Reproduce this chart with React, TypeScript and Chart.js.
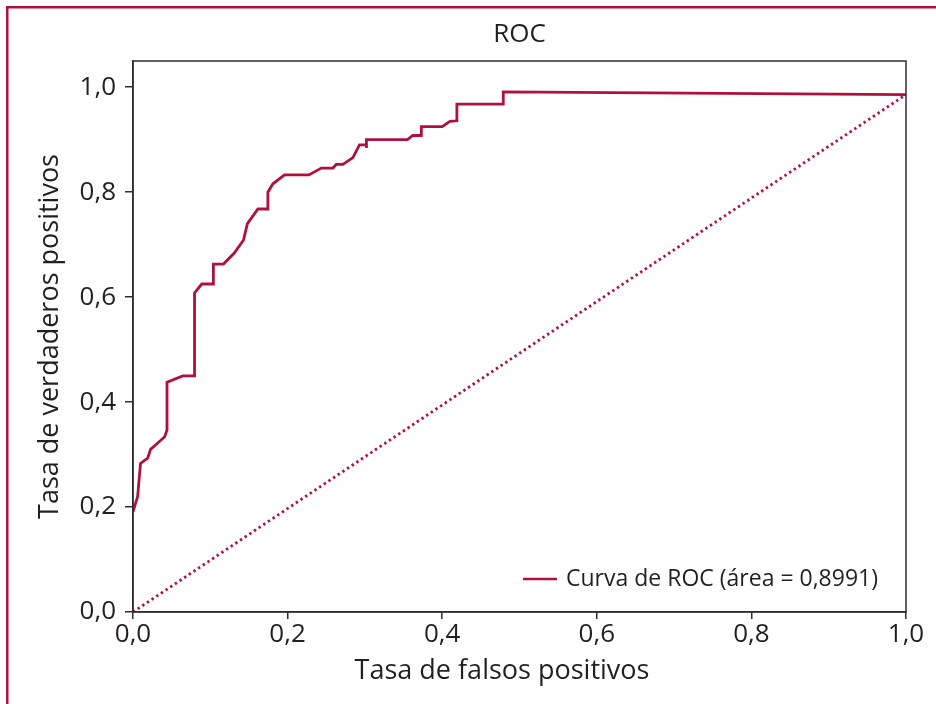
import React, { useEffect, useRef } from "react";
import { Chart, registerables } from "chart.js";

Chart.register(...registerables);

const titleText = "ROC";
const xAxisTitle = "Tasa de falsos positivos";
const yAxisTitle = "Tasa de verdaderos positivos";
const curveLabel = "Curva de ROC (área = 0,8991)";

const tickValues = [0, 0.2, 0.4, 0.6, 0.8, 1.0];

const fpr = [
  0, 0.006, 0.0097, 0.019, 0.0227, 0.032, 0.041, 0.044, 0.044, 0.0645, 0.0796,
  0.0796, 0.089, 0.104, 0.104, 0.117, 0.131, 0.143, 0.148, 0.1616, 0.1745,
  0.1745, 0.181, 0.196, 0.2276, 0.2436, 0.2587, 0.263, 0.2716, 0.2845, 0.293,
  0.302, 0.302, 0.302, 0.355, 0.362, 0.373, 0.373, 0.4, 0.41, 0.419, 0.419,
  0.479, 0.479, 1.0,
];
const tpr = [
  0.191, 0.22, 0.283, 0.293, 0.31, 0.322, 0.334, 0.347, 0.438, 0.45, 0.45,
  0.608, 0.625, 0.625, 0.663, 0.663, 0.684, 0.709, 0.74, 0.768, 0.768, 0.8,
  0.816, 0.833, 0.833, 0.846, 0.846, 0.853, 0.853, 0.866, 0.89, 0.89, 0.884,
  0.9, 0.9, 0.908, 0.908, 0.925, 0.925, 0.935, 0.936, 0.968, 0.968, 0.991,
  0.986,
];
const diagX = [0, 1.0];
const diagY = [0, 0.986];

const CRIMSON = "#B0103F";
const INK = "#231F20";
const AXIS = "#2E2E2E";
const FONT = "'Open Sans', 'Noto Sans', sans-serif";

const fmt = (v: number) => v.toFixed(1).replace(".", ",");

export default function App() {
  const ref = useRef<HTMLCanvasElement | null>(null);

  useEffect(() => {
    if (!ref.current) return;

    const decor = {
      id: "decor",
      beforeDraw(chart: any) {
        const ctx = chart.ctx;
        ctx.save();
        ctx.fillStyle = "#ffffff";
        ctx.fillRect(0, 0, chart.width, chart.height);
        ctx.fillStyle = CRIMSON;
        // left and top frame strokes only
        ctx.fillRect(6, 6, 2.5, chart.height - 6);
        ctx.fillRect(6, 6, chart.width - 6, 2.5);
        ctx.restore();
      },
      afterDraw(chart: any) {
        const ctx = chart.ctx;
        const a = chart.chartArea;
        ctx.save();
        ctx.strokeStyle = AXIS;
        ctx.lineWidth = 1.5;
        ctx.strokeRect(a.left, a.top, a.right - a.left, a.bottom - a.top);

        ctx.fillStyle = INK;
        ctx.textAlign = "center";
        ctx.textBaseline = "middle";

        // chart title, centred over the plot
        ctx.font = `26px ${FONT}`;
        ctx.fillText(titleText, (a.left + a.right) / 2, 35);

        // x axis title
        ctx.font = `27px ${FONT}`;
        ctx.fillText(xAxisTitle, 502, 671);

        // legend (inside plot, bottom right)
        const ds = chart.data.datasets[0];
        ctx.font = `23px ${FONT}`;
        const tw = ctx.measureText(ds.label).width;
        const textRight = a.right - 28;
        const textLeft = textRight - tw;
        const ly = a.bottom - 33;
        ctx.strokeStyle = ds.borderColor;
        ctx.lineWidth = 2.6;
        ctx.beginPath();
        ctx.moveTo(textLeft - 43, ly);
        ctx.lineTo(textLeft - 9, ly);
        ctx.stroke();
        ctx.textAlign = "left";
        ctx.fillText(ds.label, textLeft, ly);
        ctx.restore();
      },
    };

    const chart = new Chart(ref.current, {
      type: "scatter",
      data: {
        datasets: [
          {
            label: curveLabel,
            data: fpr.map((x, i) => ({ x, y: tpr[i] })),
            showLine: true,
            borderColor: CRIMSON,
            borderWidth: 2.8,
            pointRadius: 0,
            tension: 0,
            fill: false,
          },
          {
            label: "diagonal",
            data: diagX.map((x, i) => ({ x, y: diagY[i] })),
            showLine: true,
            borderColor: CRIMSON,
            borderWidth: 2.8,
            borderDash: [2.4, 3.2],
            pointRadius: 0,
            fill: false,
          },
        ],
      },
      options: {
        animation: false,
        responsive: false,
        maintainAspectRatio: false,
        layout: { padding: { left: 0, right: 30, top: 61, bottom: 0 } },
        plugins: {
          legend: { display: false },
          tooltip: { enabled: false },
          title: { display: false },
        },
        scales: {
          x: {
            type: "linear",
            min: 0,
            max: 1,
            afterFit: (s: any) => {
              s.height = 92;
            },
            afterBuildTicks: (s: any) => {
              s.ticks = tickValues.map((v) => ({ value: v }));
            },
            ticks: {
              color: INK,
              font: { family: FONT, size: 26 },
              padding: 0,
              maxRotation: 0,
              callback: (v: any) => fmt(Number(v)),
            },
            grid: {
              display: true,
              drawOnChartArea: false,
              drawTicks: true,
              tickLength: 7,
              color: AXIS,
              lineWidth: 1.5,
            },
            border: { display: true, color: AXIS, width: 1.5 },
          },
          y: {
            type: "linear",
            min: 0,
            max: 1.05,
            afterFit: (s: any) => {
              s.width = 133;
            },
            afterBuildTicks: (s: any) => {
              s.ticks = tickValues.map((v) => ({ value: v }));
            },
            ticks: {
              color: INK,
              font: { family: FONT, size: 26 },
              padding: 9,
              callback: (v: any) => fmt(Number(v)),
            },
            grid: {
              display: true,
              drawOnChartArea: false,
              drawTicks: true,
              tickLength: 8,
              color: AXIS,
              lineWidth: 1.5,
            },
            border: { display: true, color: AXIS, width: 1.5 },
            title: {
              display: true,
              text: yAxisTitle,
              color: INK,
              font: { family: FONT, size: 27 },
              padding: { top: 33.8, bottom: 0 },
            },
          },
        },
      },
      plugins: [decor],
    } as any);

    return () => chart.destroy();
  }, []);

  return (
    <div style={{ position: "absolute", left: 0, top: 0, width: 936, height: 704 }}>
      <canvas ref={ref} width={936} height={704} style={{ display: "block" }} />
    </div>
  );
}
